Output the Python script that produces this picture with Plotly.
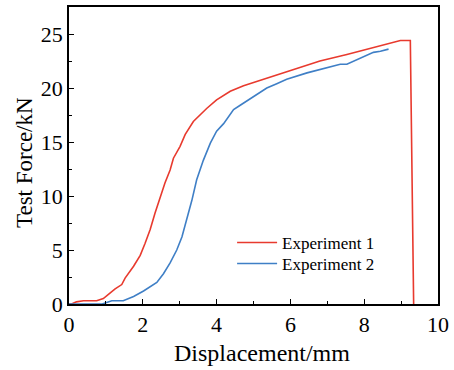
import plotly.graph_objects as go

# Experiment 1 (red)
exp1_x = [0.0, 0.07, 0.2, 0.39, 0.75, 0.93, 1.11, 1.25, 1.43, 1.52, 1.75, 1.93, 2.06, 2.2, 2.33, 2.47,
          2.6, 2.74, 2.83, 3.01, 3.15, 3.37, 3.55, 3.73, 4.0, 4.37, 4.73, 5.36, 6.08, 6.8, 7.53,
          8.07, 8.62, 8.98, 9.25, 9.34]
exp1_y = [0.0, 0.0, 0.2, 0.3, 0.3, 0.5, 1.0, 1.4, 1.8, 2.4, 3.5, 4.5, 5.6, 6.9, 8.4, 9.9,
          11.2, 12.4, 13.5, 14.6, 15.7, 16.9, 17.5, 18.1, 18.9, 19.7, 20.2, 20.9, 21.7, 22.5, 23.1,
          23.6, 24.1, 24.4, 24.4, 0.0]

# Experiment 2 (blue)
exp2_x = [0.0, 0.9, 1.16, 1.47, 1.75, 2.02, 2.38, 2.56, 2.74, 2.92, 3.06, 3.19, 3.33, 3.46, 3.64,
          3.83, 4.0, 4.19, 4.46, 4.64, 5.0, 5.36, 5.63, 5.9, 6.45, 6.99, 7.35, 7.53, 7.9, 8.25,
          8.44, 8.66]
exp2_y = [0.0, 0.0, 0.3, 0.3, 0.7, 1.2, 2.0, 2.8, 3.8, 5.0, 6.2, 7.8, 9.6, 11.5, 13.3,
          14.9, 16.0, 16.7, 18.0, 18.4, 19.2, 20.0, 20.4, 20.8, 21.4, 21.9, 22.2, 22.2, 22.8, 23.3,
          23.4, 23.6]

x_ticks = [0, 2, 4, 6, 8, 10]
y_ticks = [0, 5, 10, 15, 20, 25]
x_title = "Displacement/mm"
y_title = "Test Force/kN"

FONT = "Liberation Serif, Times New Roman, serif"

fig = go.Figure()
fig.add_trace(go.Scatter(x=exp1_x, y=exp1_y, mode="lines", name="Experiment 1",
                         line=dict(color="#E83A2E", width=1.6), legend="legend"))
fig.add_trace(go.Scatter(x=exp2_x, y=exp2_y, mode="lines", name="Experiment 2",
                         line=dict(color="#3F7FC6", width=1.6), legend="legend2"))

axis_common = dict(
    showline=True, linecolor="black", linewidth=1.5, mirror=True,
    ticks="inside", ticklen=5, tickwidth=1.2, tickcolor="black",
    showgrid=False, zeroline=False, automargin=False,
    tickfont=dict(family=FONT, size=22, color="black"),
)

fig.update_xaxes(range=[0, 10], tickvals=x_ticks,
                 minor=dict(ticks="inside", ticklen=3, tickwidth=1.2, tickcolor="black", dtick=1),
                 **axis_common)
fig.update_yaxes(range=[0, 27.5], tickvals=y_ticks,
                 minor=dict(ticks="inside", ticklen=3, tickwidth=1.2, tickcolor="black", dtick=2.5),
                 **axis_common)

fig.add_annotation(text=x_title, xref="paper", yref="paper", x=0.522, y=-0.165,
                   xanchor="center", yanchor="middle", showarrow=False,
                   font=dict(family=FONT, size=24, color="black"))
fig.add_annotation(text=y_title, xref="paper", yref="paper", x=-0.119, y=0.475,
                   xanchor="center", yanchor="middle", showarrow=False, textangle=-90,
                   font=dict(family=FONT, size=23, color="black"))

leg_common = dict(xanchor="left", yanchor="middle", bgcolor="rgba(0,0,0,0)",
                  font=dict(family=FONT, size=17, color="black"), itemwidth=40)

fig.update_layout(
    width=454, height=370,
    margin=dict(l=69, r=16, t=7, b=66),
    paper_bgcolor="white", plot_bgcolor="white",
    showlegend=True,
    legend=dict(x=0.442, y=0.2054, **leg_common),
    legend2=dict(x=0.442, y=0.1347, **leg_common),
)

fig.write_html("out.html", config={"displayModeBar": False},
               post_script="document.body.style.margin='0px';")
